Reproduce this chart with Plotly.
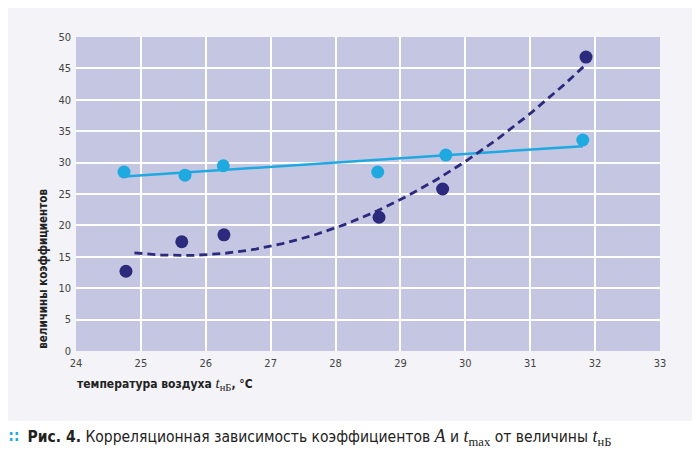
import numpy as np
import plotly.graph_objects as go

# coefficient A (light) and t_max (dark) vs air temperature t_нБ
t_light = [24.74, 25.68, 26.27, 28.65, 29.70, 31.81]
a_light = [28.5, 28.0, 29.5, 28.5, 31.2, 33.6]

t_dark = [24.77, 25.63, 26.28, 28.67, 29.65, 31.86]
a_dark = [12.7, 17.4, 18.5, 21.3, 25.8, 46.8]

x_ticks = list(range(24, 34))
y_ticks = list(range(0, 51, 5))

LIGHT = "#1fa9e1"
DARK = "#2b2a7d"
FONT = "DejaVu Sans Condensed, Roboto, sans-serif"
SERIF = "Liberation Serif"

# trend lines, as in the original (linear and quadratic fit)
lin = np.poly1d(np.polyfit(t_light, a_light, 1))
quad = np.poly1d(np.polyfit(t_dark, a_dark, 2))
xl = np.linspace(min(t_light), max(t_light), 50)
xq = np.linspace(24.9, max(t_dark), 120)

fig = go.Figure()
fig.add_trace(go.Scatter(x=xl, y=lin(xl), mode="lines",
                         line=dict(color=LIGHT, width=2.5), hoverinfo="skip"))
fig.add_trace(go.Scatter(x=xq, y=quad(xq), mode="lines",
                         line=dict(color=DARK, width=2.8, dash="8px,5px"), hoverinfo="skip"))
fig.add_trace(go.Scatter(x=t_light, y=a_light, mode="markers",
                         marker=dict(color=LIGHT, size=13)))
fig.add_trace(go.Scatter(x=t_dark, y=a_dark, mode="markers",
                         marker=dict(color=DARK, size=13)))

# outer light panel and plot area background
fig.add_shape(type="rect", xref="paper", yref="paper", x0=-0.125, x1=1.063,
              y0=-0.223, y1=1.111, fillcolor="#f3f3f8", line_width=0, layer="below")
fig.add_shape(type="rect", xref="paper", yref="paper", x0=0, x1=1, y0=0, y1=1,
              fillcolor="#c5c7e2", line_width=0, layer="below")


def serif(s, size):
    return f"<span style='font-family:{SERIF};font-size:{size}px'>{s}</span>"


fig.add_annotation(xref="paper", yref="paper", x=-0.057, y=0, xanchor="center",
                   yanchor="bottom", textangle=-90, showarrow=False,
                   text="<b>величины коэффициентов</b>",
                   font=dict(family=FONT, size=11.5, color="#222"))
fig.add_annotation(xref="paper", yref="paper", x=-0.002, y=-0.105, xanchor="left",
                   yanchor="middle", showarrow=False,
                   text="<b>температура воздуха </b>" + serif("<i>t</i><sub>нБ</sub>", 15) + "<b>, °С</b>",
                   font=dict(family=FONT, size=12, color="#222"))
fig.add_annotation(xref="paper", yref="paper", x=-0.118, y=-0.275, xanchor="left",
                   yanchor="middle", showarrow=False,
                   text=f"<span style='color:{LIGHT}'><b>∷</b></span>  <b>Рис. 4.</b> Корреляционная зависимость коэффициентов "
                        + serif("<i>A</i>", 18) + " и " + serif("<i>t</i><sub>max</sub>", 18)
                        + " от величины " + serif("<i>t</i><sub>нБ</sub>", 18),
                   font=dict(family=FONT, size=15.5, color="#222"))

# the page adds an 8px body margin, so the figure is kept 8px smaller
fig.update_layout(
    width=692, height=444,
    margin=dict(l=68, r=40, t=29, b=101),
    paper_bgcolor="white",
    plot_bgcolor="rgba(0,0,0,0)",
    showlegend=False,
    font=dict(family=FONT, size=11, color="#444"),
)
fig.update_xaxes(range=[24, 33], tickvals=x_ticks, showgrid=True, gridcolor="white",
                 gridwidth=1.5, zeroline=False, showline=False, ticks="", ticklabelstandoff=4)
fig.update_yaxes(range=[0, 50], tickvals=y_ticks, showgrid=True, gridcolor="white",
                 gridwidth=1.5, zeroline=False, showline=False, ticks="", ticklabelstandoff=4)

fig.write_html("out.html")
